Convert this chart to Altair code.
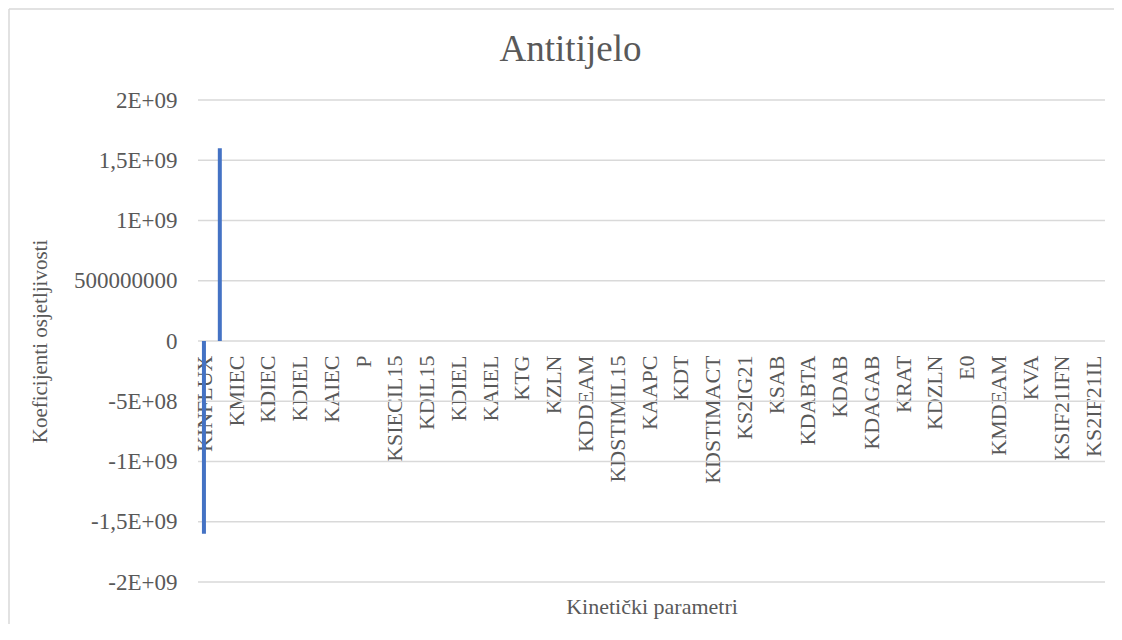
import json
import altair as alt
import pandas as pd

# Kinetic parameter names (x categories, in chart order)
names = ["KINFLUX", "KMIEC", "KDIEC", "KDIEL", "KAIEC", "P", "KSIECIL15", "KDIL15",
         "KDIEL", "KAIEL", "KTG", "KZLN", "KDDEAM", "KDSTIMIL15", "KAAPC", "KDT",
         "KDSTIMACT", "KS2IG21", "KSAB", "KDABTA", "KDAB", "KDAGAB", "KRAT", "KDZLN",
         "E0", "KMDEAM", "KVA", "KSIF21IFN", "KS2IF21IL"]

# Two series of sensitivity coefficients
series_1 = [-1.6e9, 0, 0, 0, 0, 0, 0, 0, 0, 0, 0, 0, 0, 0, 0, 0, 0, 0, 0, 0,
            0, 0, 0, 0, 0, 0, 0, 0, 0]
series_2 = [1.6e9, 0, 0, 0, 0, 0, 0, 0, 0, 0, 0, 0, 0, 0, 0, 0, 0, 0, 0, 0,
            0, 0, 0, 0, 0, 0, 0, 0, 0]

# Y axis ticks and their Excel-style labels
y_ticks = [-2e9, -1.5e9, -1e9, -5e8, 0, 5e8, 1e9, 1.5e9, 2e9]
y_tick_labels = ["-2E+09", "-1,5E+09", "-1E+09", "-5E+08", "0", "500000000",
                 "1E+09", "1,5E+09", "2E+09"]

rows = []
for i, n in enumerate(names):
    rows.append({"idx": i, "name": n, "series": "s1", "value": series_1[i]})
    rows.append({"idx": i, "name": n, "series": "s2", "value": series_2[i]})
df = pd.DataFrame(rows)
grid_df = pd.DataFrame({"value": y_ticks})

FONT = "Liberation Serif"
TXT = "#595959"
W, H = 907, 482

x_label_expr = f"{json.dumps(names)}[datum.value]"
y_label_expr = f"{json.dumps(y_tick_labels)}[indexof({json.dumps(y_ticks)}, datum.value)]"

y_scale = alt.Scale(domain=[-2e9, 2e9], nice=False, zero=False)
y_axis = alt.Axis(title="Koeficijenti osjetljivosti", values=y_ticks,
                  labelExpr=y_label_expr, domain=False, ticks=False,
                  tickSize=0, grid=False, labelPadding=21,
                  labelFontSize=23, labelFont=FONT, labelColor=TXT,
                  titleFont=FONT, titleFontSize=21, titleColor=TXT,
                  titleFontWeight="normal", titleX=-158, titleY=241,
                  titleAngle=270, titleAlign="center",
                  titleBaseline="middle")

# Horizontal gridlines spanning the plot area
grid = alt.Chart(grid_df).mark_rule(stroke="#D9D9D9", strokeWidth=1.3).encode(
    y=alt.Y("value:Q", scale=y_scale, axis=y_axis),
    x=alt.value(0), x2=alt.value(W),
)

bars = alt.Chart(df).mark_bar(size=4, color="#4472C4").encode(
    x=alt.X("idx:O",
            scale=alt.Scale(paddingInner=0, paddingOuter=0, range=[-2, 919]),
            axis=alt.Axis(title="Kinetički parametri", grid=False, domain=False,
                          ticks=False, tickSize=0, offset=-241,
                          labelAngle=270, labelAlign="right",
                          labelBaseline="alphabetic", labelPadding=14,
                          labelFontSize=22, labelFont=FONT, labelColor=TXT,
                          labelOverlap=False, labelLimit=400,
                          labelExpr=x_label_expr,
                          titleFont=FONT, titleFontSize=22, titleColor=TXT,
                          titleFontWeight="normal", titleX=W / 2, titleY=265,
                          titleAlign="center", titleBaseline="middle")),
    xOffset=alt.XOffset("series:N", scale=alt.Scale(paddingInner=0, paddingOuter=0)),
    y=alt.Y("value:Q", scale=y_scale, axis=y_axis),
)

# Chart-area border (top and left edges; the others fall outside the window)
one_row = pd.DataFrame({"a": [0]})
frame_top = alt.Chart(one_row).mark_rule(
    stroke="#D9D9D9", strokeWidth=1.5, clip=False
).encode(x=alt.value(-189), x2=alt.value(W + 60), y=alt.value(-91))
frame_left = alt.Chart(one_row).mark_rule(
    stroke="#D9D9D9", strokeWidth=1.5, clip=False
).encode(x=alt.value(-189), y=alt.value(-91), y2=alt.value(H + 100))

chart = alt.layer(frame_top, frame_left, grid, bars).properties(
    width=W, height=H,
    autosize="none",
    padding={"left": 190, "top": 92, "right": 9, "bottom": 42},
    title=alt.TitleParams("Antitijelo", font=FONT, fontSize=37, color=TXT,
                          fontWeight="normal", frame="group", anchor="middle",
                          dx=-81, offset=37, dy=127, baseline="alphabetic"),
).configure_view(strokeWidth=0).configure_axis(
    labelFont=FONT, titleFont=FONT
).configure_text(font=FONT)

chart.save("out.html", embed_options={"renderer": "svg", "actions": False})
